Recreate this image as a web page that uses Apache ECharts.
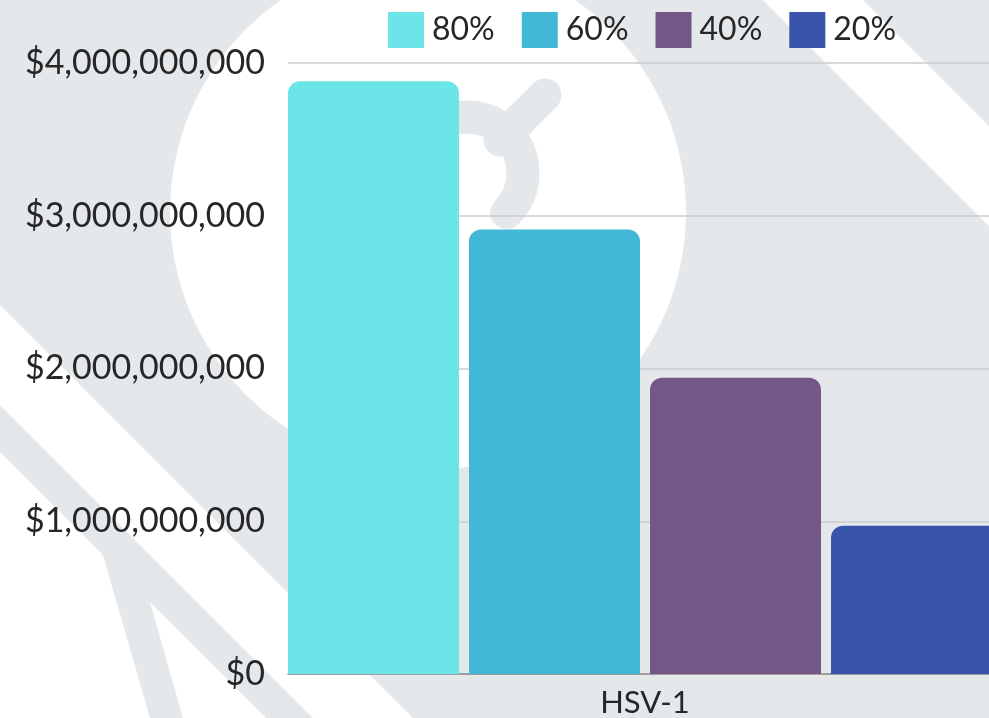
<!DOCTYPE html>
<html>
<head>
<meta charset="utf-8">
<script src="https://cdn.jsdelivr.net/npm/echarts@6/dist/echarts.min.js"></script>
<style>
html,body{margin:0;padding:0;background:#e5e8eb;overflow:hidden;width:989px;height:718px;}
#chart{width:1010px;height:718px;}
</style>
</head>
<body>
<div id="chart"></div>
<script>
// ---- data ----
const categories = ['HSV-1'];
const seriesNames = ['80%', '60%', '40%', '20%'];
const values80 = [3.88e9];
const values60 = [2.91e9];
const values40 = [1.94e9];
const values20 = [0.97e9];
const yMin = 0;
const yMax = 4e9;
const yInterval = 1e9;

const seriesValues = [values80, values60, values40, values20];
const colors = ['#6ce5e8', '#41b8d5', '#725787', '#3b54ab'];
const BG = '#e5e8eb';
const FONT = 'Lato, "Open Sans", sans-serif';
const TEXT = '#262626';
const WEIGHT = 400;

const chart = echarts.init(document.getElementById('chart'), null, {renderer: 'canvas'});

const bgElements = [
  {type: 'circle', z: -100, silent: true, shape: {cx: 428, cy: 212, r: 258}, style: {fill: '#ffffff'}},
  {type: 'polygon', z: -100, silent: true, shape: {points: [[0, 305], [413, 718], [313, 718], [0, 405]]}, style: {fill: '#ffffff'}},
  {type: 'polygon', z: -100, silent: true, shape: {points: [[763, 0], [863, 0], [1010, 147], [1010, 247]]}, style: {fill: '#ffffff'}},
  {type: 'polygon', z: -100, silent: true, shape: {points: [[0, 452], [266, 718], [0, 718]]}, style: {fill: '#ffffff'}},
  {type: 'polygon', z: -99, silent: true, shape: {points: [[100, 545], [148, 595], [183, 718], [150, 718]]}, style: {fill: BG}},
  {type: 'arc', z: -99, silent: true, shape: {cx: 467, cy: 173, r: 56, startAngle: Math.PI, endAngle: Math.PI * 2.25, clockwise: true},
    style: {stroke: BG, lineWidth: 33, fill: null, lineCap: 'round'}},
  {type: 'line', z: -99, silent: true, shape: {x1: 500, y1: 140, x2: 545, y2: 95},
    style: {stroke: BG, lineWidth: 33, lineCap: 'round'}}
];

const option = {
  backgroundColor: BG,
  animation: false,
  graphic: {elements: bgElements},
  legend: {
    data: seriesNames,
    left: 388,
    top: 12,
    padding: 0,
    icon: 'rect',
    itemWidth: 36,
    itemHeight: 36,
    itemGap: 27,
    textStyle: {fontFamily: FONT, fontSize: 32, fontWeight: WEIGHT, color: TEXT, padding: [0, 0, 0, 3]}
  },
  grid: {left: 288, top: 63, width: 714, height: 612, containLabel: false},
  xAxis: {
    type: 'category',
    data: categories,
    axisTick: {show: false},
    axisLine: {show: true, lineStyle: {color: '#8c8c8c', width: 1.5}},
    axisLabel: {fontFamily: FONT, fontSize: 31, fontWeight: WEIGHT, color: TEXT, margin: 13}
  },
  yAxis: {
    type: 'value',
    min: yMin,
    max: yMax,
    interval: yInterval,
    axisLine: {show: false},
    axisTick: {show: false},
    splitLine: {lineStyle: {color: '#caccd0', width: 1.5}},
    axisLabel: {
      fontFamily: FONT, fontSize: 34, fontWeight: WEIGHT, color: TEXT, margin: 23,
      formatter: v => '$' + Math.round(v).toLocaleString('en-US')
    }
  },
  series: seriesNames.map((name, i) => ({
    name: name,
    type: 'bar',
    data: seriesValues[i],
    barCategoryGap: '0%',
    barGap: '5.85%',
    itemStyle: {color: colors[i], borderRadius: [12, 12, 0, 0]}
  }))
};

chart.setOption(option);
</script>
</body>
</html>
